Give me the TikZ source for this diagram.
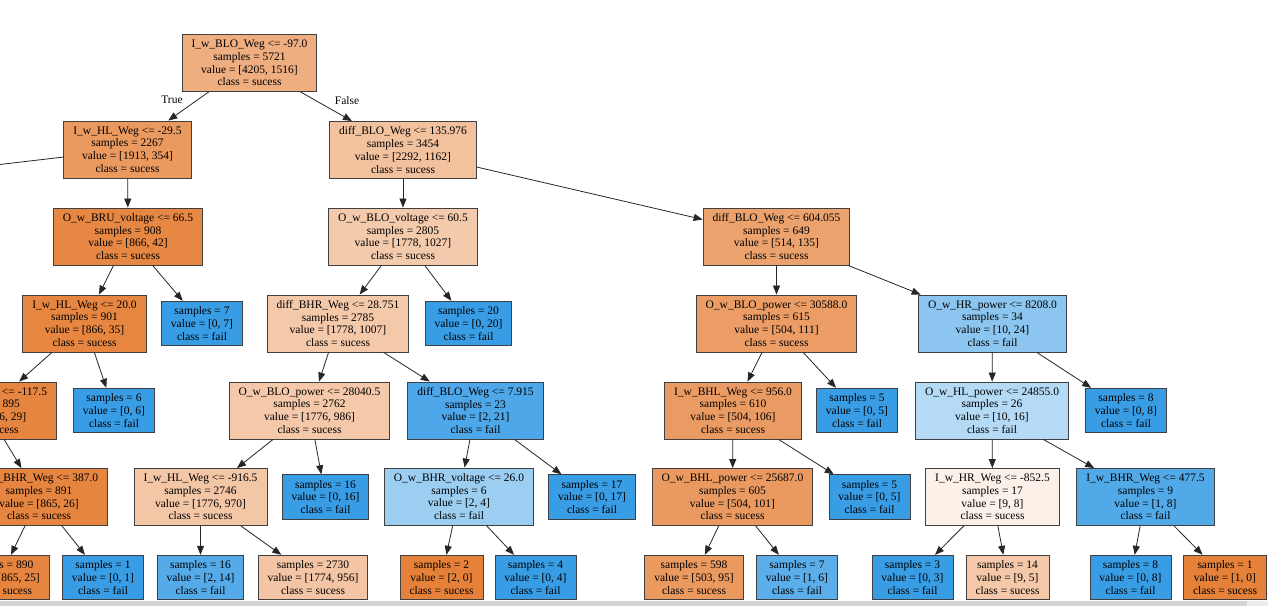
\documentclass[tikz,border=0pt]{standalone}
\usepackage{fontspec}
\setmainfont{Liberation Serif}
\usetikzlibrary{arrows.meta}
\definecolor{sucess}{RGB}{229,129,57}
\definecolor{fail}{RGB}{57,157,229}

\begin{document}
\begin{tikzpicture}[x=1pt,y=-1pt,font=\fontsize{11.5}{12.75}\selectfont,
    box/.style={draw=black!75,line width=0.9pt,align=center,inner xsep=9.5pt,inner ysep=0pt,minimum height=57pt},
    leaf/.style={box,minimum height=44.5pt},
    edge/.style={draw=black!85,line width=0.8pt,-{Triangle[length=9pt,width=7pt]}}]
    \useasboundingbox (0,0) rectangle (1268,606);
    \clip (0,0) rectangle (1268,606);
    \fill[white] (0,0) rectangle (1268,606);
    % scrollbar strip at the bottom of the screenshot
    \fill[black!17] (0,601) rectangle (1247,606);
    \fill[black!7] (1247,601) rectangle (1268,606);

    % level 0 and 1
    \node[box,fill=sucess!64!white] (n1) at (249.5,63) {I\_w\_BLO\_Weg <= -97.0\\samples = 5721\\value = [4205, 1516]\\class = sucess};
    \node[box,fill=sucess!81!white] (n2) at (127.5,149.5) {I\_w\_HL\_Weg <= -29.5\\samples = 2267\\value = [1913, 354]\\class = sucess};
    \node[box,fill=sucess!49!white] (n11) at (403,150) {diff\_BLO\_Weg <= 135.976\\samples = 3454\\value = [2292, 1162]\\class = sucess};
    \node (true) at (172,100) {True};
    \node (false) at (347,101) {False};
    % left child of n2 lies outside the picture
    \coordinate (n0) at (-200,188);

    % left part
    \node[box,fill=sucess!95!white] (n3) at (128,236.5) {O\_w\_BRU\_voltage <= 66.5\\samples = 908\\value = [866, 42]\\class = sucess};
    \node[box,fill=sucess!96!white] (n4) at (84.5,323.5) {I\_w\_HL\_Weg <= 20.0\\samples = 901\\value = [866, 35]\\class = sucess};
    \node[leaf,fill=fail] (n5) at (202,323.5) {samples = 7\\value = [0, 7]\\class = fail};
    \node[box,fill=sucess!97!white] (n6) at (-13.5,410.5) {I\_w\_BLO\_Weg <= -117.5\\samples = 895\\value = [866, 29]\\class = sucess};
    \node[leaf,fill=fail] (n7) at (114,410.5) {samples = 6\\value = [0, 6]\\class = fail};
    \node[box,fill=sucess!97!white] (n8) at (39,497) {I\_w\_BHR\_Weg <= 387.0\\samples = 891\\value = [865, 26]\\class = sucess};
    \node[leaf,fill=sucess!97!white] (n9) at (0,577.5) {samples = 890\\value = [865, 25]\\class = sucess};
    \node[leaf,fill=fail] (n10) at (103,577.5) {samples = 1\\value = [0, 1]\\class = fail};

    % middle part
    \node[box,fill=sucess!42!white] (n12) at (403,236.5) {O\_w\_BLO\_voltage <= 60.5\\samples = 2805\\value = [1778, 1027]\\class = sucess};
    \node[box,fill=sucess!43!white] (n13) at (338,323.5) {diff\_BHR\_Weg <= 28.751\\samples = 2785\\value = [1778, 1007]\\class = sucess};
    \node[leaf,fill=fail] (n14) at (468.5,323.5) {samples = 20\\value = [0, 20]\\class = fail};
    \node[box,fill=sucess!44!white] (n15) at (309.5,410.5) {O\_w\_BLO\_power <= 28040.5\\samples = 2762\\value = [1776, 986]\\class = sucess};
    \node[box,fill=fail!90!white] (n16) at (475.5,410.5) {diff\_BLO\_Weg <= 7.915\\samples = 23\\value = [2, 21]\\class = fail};
    \node[box,fill=sucess!45!white] (n17) at (200.5,497) {I\_w\_HL\_Weg <= -916.5\\samples = 2746\\value = [1776, 970]\\class = sucess};
    \node[leaf,fill=fail] (n18) at (325.5,497) {samples = 16\\value = [0, 16]\\class = fail};
    \node[box,fill=fail!50!white] (n19) at (459,496.5) {O\_w\_BHR\_voltage <= 26.0\\samples = 6\\value = [2, 4]\\class = fail};
    \node[leaf,fill=fail] (n20) at (592,497) {samples = 17\\value = [0, 17]\\class = fail};
    \node[leaf,fill=fail!86!white] (n21) at (200.5,577.5) {samples = 16\\value = [2, 14]\\class = fail};
    \node[leaf,fill=sucess!46!white] (n22) at (313,577.5) {samples = 2730\\value = [1774, 956]\\class = sucess};
    \node[leaf,fill=sucess] (n23) at (441.5,577.5) {samples = 2\\value = [2, 0]\\class = sucess};
    \node[leaf,fill=fail] (n24) at (535.5,577.5) {samples = 4\\value = [0, 4]\\class = fail};

    % right part
    \node[box,fill=sucess!74!white] (n25) at (776.5,236.5) {diff\_BLO\_Weg <= 604.055\\samples = 649\\value = [514, 135]\\class = sucess};
    \node[box,fill=sucess!78!white] (n26) at (776.5,323.5) {O\_w\_BLO\_power <= 30588.0\\samples = 615\\value = [504, 111]\\class = sucess};
    \node[box,fill=fail!58!white] (n27) at (992.5,323.5) {O\_w\_HR\_power <= 8208.0\\samples = 34\\value = [10, 24]\\class = fail};
    \node[box,fill=sucess!79!white] (n28) at (733,410.5) {I\_w\_BHL\_Weg <= 956.0\\samples = 610\\value = [504, 106]\\class = sucess};
    \node[leaf,fill=fail] (n29) at (857,410.5) {samples = 5\\value = [0, 5]\\class = fail};
    \node[box,fill=fail!38!white] (n30) at (992,410.5) {O\_w\_HL\_power <= 24855.0\\samples = 26\\value = [10, 16]\\class = fail};
    \node[leaf,fill=fail] (n31) at (1126,410.5) {samples = 8\\value = [0, 8]\\class = fail};
    \node[box,fill=sucess!80!white] (n32) at (732.5,497) {O\_w\_BHL\_power <= 25687.0\\samples = 605\\value = [504, 101]\\class = sucess};
    \node[leaf,fill=fail] (n33) at (869.5,497) {samples = 5\\value = [0, 5]\\class = fail};
    \node[box,fill=sucess!11!white] (n34) at (992.5,497) {I\_w\_HR\_Weg <= -852.5\\samples = 17\\value = [9, 8]\\class = sucess};
    \node[box,fill=fail!88!white] (n35) at (1145.5,497) {I\_w\_BHR\_Weg <= 477.5\\samples = 9\\value = [1, 8]\\class = fail};
    \node[leaf,fill=sucess!81!white] (n36) at (694,577.5) {samples = 598\\value = [503, 95]\\class = sucess};
    \node[leaf,fill=fail!83!white] (n37) at (797,577.5) {samples = 7\\value = [1, 6]\\class = fail};
    \node[leaf,fill=fail] (n38) at (912.5,577.5) {samples = 3\\value = [0, 3]\\class = fail};
    \node[leaf,fill=sucess!44!white] (n39) at (1007.5,577.5) {samples = 14\\value = [9, 5]\\class = sucess};
    \node[leaf,fill=fail] (n40) at (1130.5,577.5) {samples = 8\\value = [0, 8]\\class = fail};
    \node[leaf,fill=sucess] (n41) at (1225,577.5) {samples = 1\\value = [1, 0]\\class = sucess};

    % connectors
    \draw[edge] (n1) -- (n2);   \draw[edge] (n1) -- (n11);
    \draw[edge] (n2) -- (n0);   \draw[edge] (n2) -- (n3);
    \draw[edge] (n3) -- (n4);   \draw[edge] (n3) -- (n5);
    \draw[edge] (n4) -- (n6);   \draw[edge] (n4) -- (n7);
    \draw[edge] (n6) -- (n8);
    \draw[edge] (n8) -- (n9);   \draw[edge] (n8) -- (n10);
    \draw[edge] (n11) -- (n12); \draw[edge] (n11) -- (n25);
    \draw[edge] (n12) -- (n13); \draw[edge] (n12) -- (n14);
    \draw[edge] (n13) -- (n15); \draw[edge] (n13) -- (n16);
    \draw[edge] (n15) -- (n17); \draw[edge] (n15) -- (n18);
    \draw[edge] (n16) -- (n19); \draw[edge] (n16) -- (n20);
    \draw[edge] (n17) -- (n21); \draw[edge] (n17) -- (n22);
    \draw[edge] (n19) -- (n23); \draw[edge] (n19) -- (n24);
    \draw[edge] (n25) -- (n26); \draw[edge] (n25) -- (n27);
    \draw[edge] (n26) -- (n28); \draw[edge] (n26) -- (n29);
    \draw[edge] (n27) -- (n30); \draw[edge] (n27) -- (n31);
    \draw[edge] (n28) -- (n32); \draw[edge] (n28) -- (n33);
    \draw[edge] (n30) -- (n34); \draw[edge] (n30) -- (n35);
    \draw[edge] (n32) -- (n36); \draw[edge] (n32) -- (n37);
    \draw[edge] (n34) -- (n38); \draw[edge] (n34) -- (n39);
    \draw[edge] (n35) -- (n40); \draw[edge] (n35) -- (n41);
\end{tikzpicture}
\end{document}
